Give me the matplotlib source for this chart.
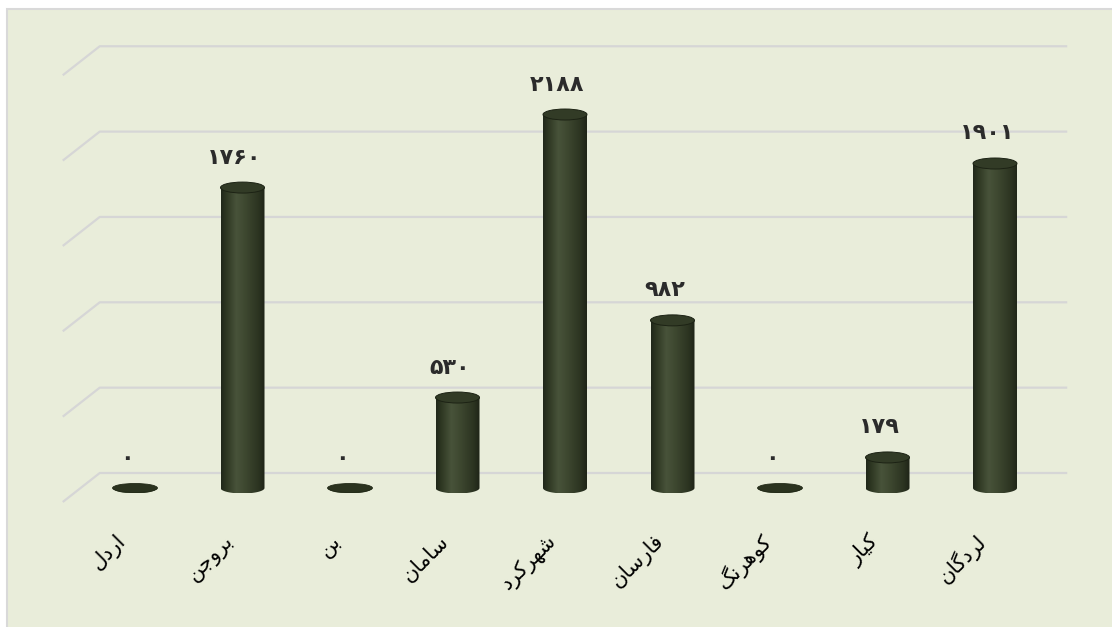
import matplotlib
matplotlib.use("Agg")
import matplotlib.pyplot as plt
import numpy as np
from matplotlib.patches import Ellipse, Polygon, Rectangle
from matplotlib.colors import LinearSegmentedColormap

categories = ["اردل", "بروجن", "بن", "سامان", "شهرکرد", "فارسان", "کوهرنگ", "کیار", "لردگان"]
values = [0, 1760, 0, 530, 2188, 982, 0, 179, 1901]
grid_values = [0, 500, 1000, 1500, 2000, 2500]

# presentation forms: isolated, final, initial, medial
FORMS = {
    "ا": "\uFE8D\uFE8E", "ب": "\uFE8F\uFE90\uFE91\uFE92", "ج": "\uFE9D\uFE9E\uFE9F\uFEA0",
    "د": "\uFEA9\uFEAA", "ر": "\uFEAD\uFEAE", "س": "\uFEB1\uFEB2\uFEB3\uFEB4",
    "ش": "\uFEB5\uFEB6\uFEB7\uFEB8", "ف": "\uFED1\uFED2\uFED3\uFED4", "ل": "\uFEDD\uFEDE\uFEDF\uFEE0",
    "م": "\uFEE1\uFEE2\uFEE3\uFEE4", "ن": "\uFEE5\uFEE6\uFEE7\uFEE8", "ه": "\uFEE9\uFEEA\uFEEB\uFEEC",
    "و": "\uFEED\uFEEE", "\u06A9": "\uFB8E\uFB8F\uFB90\uFB91", "\u06AF": "\uFB92\uFB93\uFB94\uFB95",
    "\u06CC": "\uFBFC\uFBFD\uFBFE\uFBFF",
}


def shape(word):
    word = word.replace("\u0643", "\u06A9").replace("\u064A", "\u06CC")
    out = []
    for k, ch in enumerate(word):
        f = FORMS[ch]
        prev = k > 0 and len(FORMS[word[k - 1]]) == 4
        nxt = k < len(word) - 1 and len(f) == 4
        idx = {(False, False): 0, (True, False): 1, (False, True): 2, (True, True): 3}[(prev, nxt)]
        out.append(f[idx])
    return "".join(reversed(out))


PERSIAN = str.maketrans("0123456789", "۰۱۲۳۴۵۶۷۸۹")

W, H = 1112, 627
X0, DX = 135, 107.5      # pixel x of first bar, spacing
Y0, DY = 488, 0.1707     # pixel y of value 0 (mid depth), px per unit

fig = plt.figure(figsize=(W / 100, H / 100), dpi=100, facecolor="white")
ax = fig.add_axes([0, 0, 1, 1])
xlim = (-X0 / DX, (W - X0) / DX)
ylim = ((Y0 - H) / DY, Y0 / DY)
ax.set_xlim(*xlim)
ax.set_ylim(*ylim)
ax.axis("off")

# chart area
ax.add_patch(Rectangle((-(X0 - 7) / DX, ylim[0] - 50), 20, (Y0 - 9) / DY - ylim[0] + 50,
                       facecolor="#E9EDDA", edgecolor="#D9D9D9", lw=1.5, zorder=0))

# back wall gridlines with side-wall diagonals
bx, by = 18.5 / DX, 15 / DY
fx, fy = -18.5 / DX, -14 / DY
for g in grid_values:
    ax.plot([-0.5 + fx, -0.5 + bx, 8.5 + bx], [g + fy, g + by, g + by],
            color="#D6D6D6", lw=1.6, zorder=1, solid_capstyle="butt")

cyl_cmap = LinearSegmentedColormap.from_list(
    "cyl", [(0, "#20271A"), (0.12, "#2E3722"), (0.35, "#48533A"), (0.55, "#3E4830"),
            (0.85, "#2C3421"), (1, "#1E2417")])
grad = np.linspace(0, 1, 256).reshape(1, -1)

hw = 22 / DX
eh = 5.5 / DY
for i, v in enumerate(values):
    t = np.linspace(np.pi, 2 * np.pi, 60)
    verts = list(zip(i + hw * np.cos(t), eh * np.sin(t))) + [(i + hw, v), (i - hw, v)]
    body = Polygon(verts, closed=True, facecolor="none", edgecolor="none", zorder=2)
    ax.add_patch(body)
    im = ax.imshow(grad, cmap=cyl_cmap, extent=(i - hw, i + hw, -eh, v + 1),
                   aspect="auto", interpolation="bicubic", zorder=3)
    im.set_clip_path(body)
    if v == 0:
        ax.add_patch(Ellipse((i, v), 2 * hw * 1.02, 2 * 4.5 / DY, angle=0,
                             facecolor="#2B331F", edgecolor="#232A18", lw=0.6, zorder=4))
    else:
        ax.add_patch(Ellipse((i, v), 2 * hw, 2 * eh, facecolor="#323B26",
                             edgecolor="#1C2214", lw=0.7, zorder=4))
    ax.annotate(str(v).translate(PERSIAN), xy=(i, v), xytext=(-8, 30),
                textcoords="offset pixels", ha="center", va="center",
                fontsize=16, fontweight="bold", color="#2B2B2B", zorder=5)
    ax.annotate(shape(categories[i]), xy=(i, 0), xytext=(-12, -50),
                textcoords="offset pixels", ha="right", va="center",
                rotation=45, rotation_mode="anchor", fontsize=15,
                color="black", zorder=5)

ax.set_xlim(*xlim)
ax.set_ylim(*ylim)
fig.savefig("out.png", dpi=100, facecolor="white")
